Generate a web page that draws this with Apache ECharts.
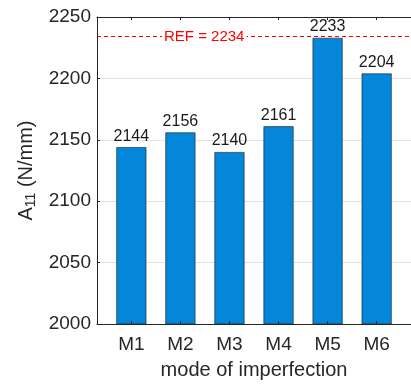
<!DOCTYPE html>
<html>
<head>
<meta charset="utf-8">
<script src="https://cdn.jsdelivr.net/npm/echarts@6/dist/echarts.min.js"></script>
<style>
  html, body { margin: 0; padding: 0; background: #fff; }
  #chart { width: 411px; height: 385px; }
</style>
</head>
<body>
<div id="chart"></div>
<script>
// Stiffness A11 for each imperfection mode, with the reference value
const categories = ['M1', 'M2', 'M3', 'M4', 'M5', 'M6'];
const stiffness = [2144, 2156, 2140, 2161, 2233, 2204];
const refValue = 2234;
const yTicks = [2000, 2050, 2100, 2150, 2200, 2250];

const FONT = '"Liberation Sans", Arial, Helvetica, sans-serif';
const INK = '#262626';
const positions = categories.map((c, i) => i + 1);

const chart = echarts.init(document.getElementById('chart'), null, { renderer: 'canvas' });

chart.setOption({
  animation: false,
  backgroundColor: '#ffffff',
  grid: { left: 97, top: 17, width: 316, height: 308 },
  xAxis: [
    {
      type: 'value',
      min: 0.3,
      max: 6.7,
      position: 'bottom',
      z: 5,
      axisLine: { show: true, lineStyle: { color: INK, width: 1 } },
      axisTick: { show: true, inside: true, length: 3, customValues: positions, lineStyle: { color: INK } },
      axisLabel: {
        customValues: positions,
        formatter: v => categories[Math.round(v) - 1] || '',
        color: INK, fontFamily: FONT, fontSize: 19, margin: 11
      },
      splitLine: { show: false },
      name: 'mode of imperfection',
      nameLocation: 'middle',
      nameGap: 36,
      nameTextStyle: { color: INK, fontFamily: FONT, fontSize: 20 }
    },
    {
      type: 'value',
      min: 0.3,
      max: 6.7,
      position: 'top',
      z: 5,
      axisLine: { show: true, lineStyle: { color: INK, width: 1 } },
      axisTick: { show: true, inside: true, length: 3, customValues: positions, lineStyle: { color: INK } },
      axisLabel: { show: false },
      splitLine: { show: false }
    }
  ],
  yAxis: {
    type: 'value',
    min: yTicks[0],
    max: yTicks[yTicks.length - 1],
    interval: 50,
    axisLine: { show: true, lineStyle: { color: INK, width: 1 } },
    axisTick: { show: true, inside: true, length: 3, lineStyle: { color: INK } },
    axisLabel: { color: INK, fontFamily: FONT, fontSize: 19, margin: 6, formatter: v => String(v) },
    splitLine: { show: true, lineStyle: { color: '#e3e3e3', width: 1 } },
    name: 'A{sub|11} (N/mm)',
    nameLocation: 'middle',
    nameRotate: 90,
    nameGap: 58,
    nameTextStyle: {
      color: INK, fontFamily: FONT, fontSize: 20,
      rich: {
        sub: { fontSize: 14, fontFamily: FONT, color: INK, verticalAlign: 'bottom', padding: [9, 0, 0, 0] }
      }
    }
  },
  series: [
    {
      type: 'bar',
      xAxisIndex: 0,
      barWidth: 30,
      data: stiffness.map((v, i) => [positions[i], v]),
      itemStyle: { color: '#0487DB', borderColor: '#1a1a1a', borderWidth: 0.6 },
      label: {
        show: true,
        position: 'top',
        distance: 3,
        formatter: p => String(p.value[1]),
        color: '#1a1a1a', fontFamily: FONT, fontSize: 16
      },
      markLine: {
        silent: true,
        symbol: 'none',
        lineStyle: { color: '#ff0000', type: [4, 3], width: 1 },
        data: [{ yAxis: refValue }],
        label: {
          show: true,
          position: 'insideStart',
          distance: [65, 0],
          formatter: 'REF = ' + refValue,
          color: '#ff0000', fontFamily: FONT, fontSize: 15,
          backgroundColor: '#ffffff',
          padding: [0, 2]
        }
      }
    }
  ]
});
</script>
</body>
</html>
